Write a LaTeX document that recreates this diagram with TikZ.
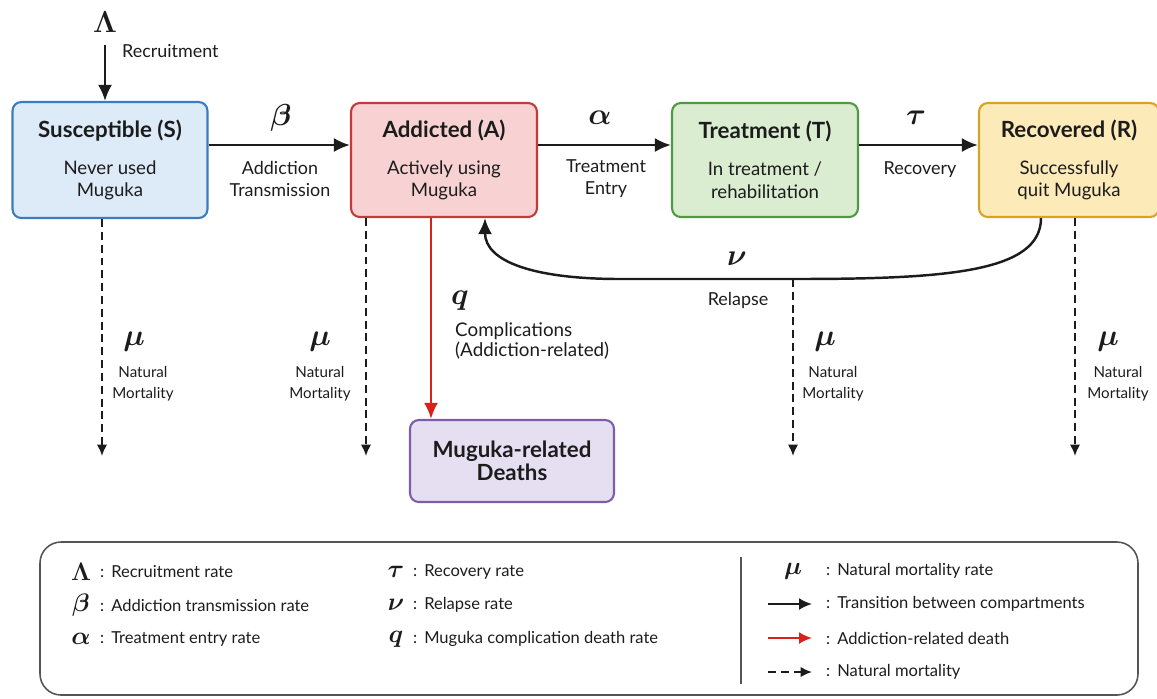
\documentclass[tikz,border=0pt]{standalone}
\usepackage{fontspec}
\setmainfont{Lato}
\usetikzlibrary{arrows.meta}
\definecolor{susFill}{HTML}{DDEAF7}
\definecolor{susLine}{HTML}{3B7CC0}
\definecolor{addFill}{HTML}{F8D2D2}
\definecolor{addLine}{HTML}{C23A3C}
\definecolor{trtFill}{HTML}{DAEDD1}
\definecolor{trtLine}{HTML}{4F9A40}
\definecolor{recFill}{HTML}{FCEAB9}
\definecolor{recLine}{HTML}{D9A322}
\definecolor{dthFill}{HTML}{E6DFF2}
\definecolor{dthLine}{HTML}{7E5CA8}
\definecolor{deathRed}{HTML}{D9211E}
\definecolor{ink}{HTML}{1C1C1C}
\newcommand{\boxtitle}[1]{{\fontsize{12.7}{15}\selectfont\bfseries #1}}
\begin{document}
\begin{tikzpicture}[
    x=0.02cm, y=-0.02cm,
    every node/.style={text=ink},
    comp/.style={draw, rounded corners=5pt, line width=1.2pt, minimum width=3.72cm,
      minimum height=2.28cm, align=center, font=\fontsize{10.6}{13}\selectfont},
    greek/.style={font=\fontsize{18}{20}\selectfont\boldmath, inner sep=1pt},
    lbl/.style={font=\fontsize{10.2}{12.5}\selectfont, align=center},
    small/.style={font=\fontsize{8.6}{12}\selectfont, align=center},
    flow/.style={draw=ink, line width=1.4pt, -{Latex[length=3.2mm,width=2.8mm]}},
    death/.style={draw=deathRed, line width=1.4pt, -{Latex[length=3.2mm,width=2.8mm]}},
    mort/.style={draw=ink, line width=1.1pt, dash pattern=on 4.5pt off 2.8pt, -{Latex[length=2.3mm,width=2.1mm]}},
    lsym/.style={font=\fontsize{14.5}{16}\selectfont\boldmath, inner sep=1pt},
    ltxt/.style={font=\fontsize{9.4}{11}\selectfont, anchor=west, inner sep=1pt}
  ]
  \useasboundingbox (0,0) rectangle (1157,698);

  \node[comp, fill=susFill, draw=susLine, minimum width=3.9cm, minimum height=2.32cm] (S) at (110,160)
    {\boxtitle{Susceptible (S)}\\[8pt]Never used\\Muguka};
  \node[comp, fill=addFill, draw=addLine] (A) at (444,160)
    {\boxtitle{Addicted (A)}\\[8pt]Actively using\\Muguka};
  \node[comp, fill=trtFill, draw=trtLine] (T) at (765,160)
    {\boxtitle{Treatment (T)}\\[8pt]In treatment /\\rehabilitation};
  \node[comp, fill=recFill, draw=recLine, minimum width=3.6cm] (R) at (1069,160)
    {\boxtitle{Recovered (R)}\\[8pt]Successfully\\quit Muguka};
  \node[comp, fill=dthFill, draw=dthLine, minimum width=4.08cm, minimum height=1.64cm] (D) at (512,461)
    {\boxtitle{Muguka-related}\\\boxtitle{Deaths}};

  % inflow
  \node[greek] (Lam) at (105,22) {$\Lambda$};
  \node[lbl, anchor=west] (rec) at (116,51) {Recruitment};
  \draw[flow, shorten <=2mm] (Lam.south) -- (Lam.south |- S.north);

  % transitions
  \draw[flow] ([yshift=0.3cm]S.east) -- ([yshift=0.3cm]A.west);
  \node[greek] (beta) at (281,118) {$\beta$};
  \node[lbl] (betaL) at (280,179) {Addiction\\Transmission};
  \draw[flow] ([yshift=0.3cm]A.east) -- ([yshift=0.3cm]T.west);
  \node[greek] (alpha) at (600,118) {$\alpha$};
  \node[lbl] (alphaL) at (606,179) {Treatment\\Entry};
  \draw[flow] ([yshift=0.3cm]T.east) -- ([yshift=0.3cm]R.west);
  \node[greek] (tau) at (916,118) {$\tau$};
  \node[lbl] (tauL) at (920,170) {Recovery};

  % relapse
  \coordinate (relapse) at (793,279);
  \draw[flow] ([xshift=-0.56cm]R.south) .. controls +(0,55) and +(150,0) .. (relapse)
    -- (620,279) .. controls (535,279) and (485,262) .. ([xshift=0.82cm]A.south);
  \node[greek] (nu) at (737,259) {$\nu$};
  \node[lbl] (nuL) at (738,300) {Relapse};

  % complications
  \draw[death] ([xshift=-0.26cm]A.south) -- ([xshift=-0.26cm]A.south |- D.north);
  \node[greek] (q) at (460,301) {$q$};
  \node[lbl, anchor=north west, align=left, font=\fontsize{10.7}{11.5}\selectfont] (qL) at (449,316) {Complications\\(Addiction-related)};

  % natural mortality
  \coordinate (dS) at (102,456);
  \coordinate (dA) at (366,456);
  \coordinate (dT) at (793,456);
  \coordinate (dR) at (1075,456);
  \draw[mort] (S.south -| dS) -- (dS);
  \draw[mort] (A.south -| dA) -- (dA);
  \draw[mort] (relapse) -- (dT);
  \draw[mort] (R.south -| dR) -- (dR);
  \node[greek] (muS) at (134,342) {$\mu$};
  \node[small] (muSL) at (143,384) {Natural\\Mortality};
  \node[greek] (muA) at (320,342) {$\mu$};
  \node[small] (muAL) at (320,384) {Natural\\Mortality};
  \node[greek] (muT) at (825,342) {$\mu$};
  \node[small] (muTL) at (833,384) {Natural\\Mortality};
  \node[greek] (muR) at (1108,342) {$\mu$};
  \node[small] (muRL) at (1118,384) {Natural\\Mortality};

  % legend
  \draw[draw=ink!75, line width=0.9pt, rounded corners=12pt] (40,542) rectangle (1138,695);
  \draw[draw=ink!75, line width=0.9pt] (741,557) -- (741,684);
  \foreach \s/\t/\y [count=\i] in {\Lambda/Recruitment rate/572, \beta/Addiction transmission rate/605,
      \alpha/Treatment entry rate/639} {
    \node[lsym] (ls\i) at (81,\y) {$\s$};
    \node[ltxt] (lt\i) at (98,\y) {:\hspace{4pt}\t};
  }
  \foreach \s/\t/\y [count=\i] in {\tau/Recovery rate/572, \nu/Relapse rate/605,
      q/Muguka complication death rate/639} {
    \node[lsym] (ms\i) at (396,\y) {$\s$};
    \node[ltxt] (mt\i) at (411,\y) {:\hspace{4pt}\t};
  }
  \node[lsym] (rs1) at (793,571) {$\mu$};
  \node[ltxt] (rt1) at (824,571) {:\hspace{4pt}Natural mortality rate};
  \node[ltxt] (rt2) at (824,604) {:\hspace{4pt}Transition between compartments};
  \node[ltxt] (rt3) at (824,638) {:\hspace{4pt}Addiction-related death};
  \node[ltxt] (rt4) at (824,672) {:\hspace{4pt}Natural mortality};
  \draw[flow, line width=1.2pt, -{Latex[length=2.6mm,width=2.4mm]}] ([xshift=-1.12cm]rt2.west) -- ([xshift=-0.24cm]rt2.west);
  \draw[death, line width=1.2pt, -{Latex[length=2.6mm,width=2.4mm]}] ([xshift=-1.12cm]rt3.west) -- ([xshift=-0.24cm]rt3.west);
  \draw[mort] ([xshift=-1.12cm]rt4.west) -- ([xshift=-0.24cm]rt4.west);
\end{tikzpicture}
\end{document}
